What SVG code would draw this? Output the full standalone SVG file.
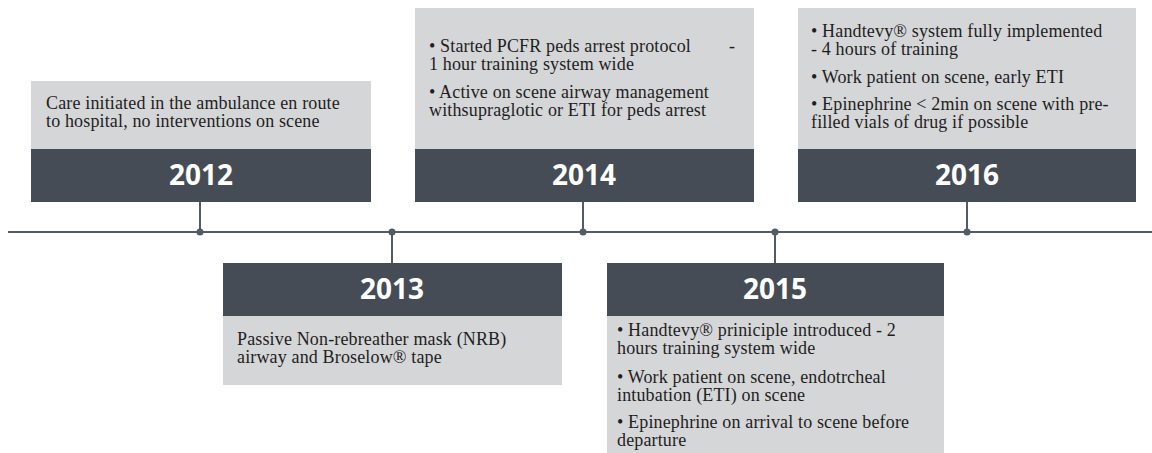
<svg xmlns="http://www.w3.org/2000/svg" width="1152" height="453" viewBox="0 0 1152 453">
  <style>
    .panel { fill: #d5d6d8; }
    .band { fill: #464c55; }
    .year { font-family: "Open Sans", "Liberation Sans", sans-serif; font-weight: bold; font-size: 28px; fill: #ffffff; text-anchor: middle; }
    .body { font-family: "Liberation Serif", "Times New Roman", serif; font-size: 18px; letter-spacing: 0.15px; fill: #1e1e1e; }
    .axis { stroke: #555b63; stroke-width: 2; fill: none; }
    .dot { fill: #555b63; }
  </style>

  <!-- timeline axis, stems and joints -->
  <g id="connectors">
    <line class="axis" x1="8" y1="232" x2="1152" y2="232"/>
    <line class="axis" x1="200" y1="202" x2="200" y2="232"/>
    <line class="axis" x1="392" y1="232" x2="392" y2="263"/>
    <line class="axis" x1="583" y1="202" x2="583" y2="232"/>
    <line class="axis" x1="775" y1="232" x2="775" y2="263"/>
    <line class="axis" x1="967" y1="202" x2="967" y2="232"/>
    <circle class="dot" cx="200" cy="232" r="3.5"/>
    <circle class="dot" cx="392" cy="232" r="3.5"/>
    <circle class="dot" cx="583" cy="232" r="3.5"/>
    <circle class="dot" cx="775" cy="232" r="3.5"/>
    <circle class="dot" cx="967" cy="232" r="3.5"/>
  </g>

  <g id="node-2012">
    <rect class="panel" x="31" y="81" width="340" height="68"/>
    <rect class="band" x="31" y="149" width="340" height="53"/>
    <text class="body" x="46" y="109">Care initiated in the ambulance en route</text>
    <text class="body" x="46" y="127">to hospital, no interventions on scene</text>
    <text class="year" x="201" y="185">2012</text>
  </g>

  <g id="node-2013">
    <rect class="band" x="223" y="263" width="339" height="53"/>
    <rect class="panel" x="223" y="316" width="339" height="69"/>
    <text class="year" x="392" y="299">2013</text>
    <text class="body" x="237" y="345">Passive Non-rebreather mask (NRB)</text>
    <text class="body" x="237" y="363">airway and Broselow® tape</text>
  </g>

  <g id="node-2014">
    <rect class="panel" x="415" y="8" width="339" height="141"/>
    <rect class="band" x="415" y="149" width="339" height="53"/>
    <text class="body" x="429" y="52">• Started PCFR peds arrest protocol<tspan x="729">-</tspan></text>
    <text class="body" x="429" y="70">1 hour training system wide</text>
    <text class="body" x="429" y="98">• Active on scene airway management</text>
    <text class="body" x="429" y="116">withsupraglotic or ETI for peds arrest</text>
    <text class="year" x="584" y="185">2014</text>
  </g>

  <g id="node-2015">
    <rect class="band" x="607" y="263" width="337" height="53"/>
    <rect class="panel" x="607" y="316" width="337" height="137"/>
    <text class="year" x="775" y="299">2015</text>
    <text class="body" x="617" y="336">• Handtevy® priniciple introduced - 2</text>
    <text class="body" x="617" y="354">hours training system wide</text>
    <text class="body" x="617" y="383">• Work patient on scene, endotrcheal</text>
    <text class="body" x="617" y="401">intubation (ETI) on scene</text>
    <text class="body" x="617" y="428">• Epinephrine on arrival to scene before</text>
    <text class="body" x="617" y="446">departure</text>
  </g>

  <g id="node-2016">
    <rect class="panel" x="798" y="8" width="338" height="141"/>
    <rect class="band" x="798" y="149" width="338" height="53"/>
    <text class="body" x="811" y="37">• Handtevy® system fully implemented</text>
    <text class="body" x="811" y="55">- 4 hours of training</text>
    <text class="body" x="811" y="83">• Work patient on scene, early ETI</text>
    <text class="body" x="811" y="110">• Epinephrine &lt; 2min on scene with pre-</text>
    <text class="body" x="811" y="128">filled vials of drug if possible</text>
    <text class="year" x="967" y="185">2016</text>
  </g>
</svg>
